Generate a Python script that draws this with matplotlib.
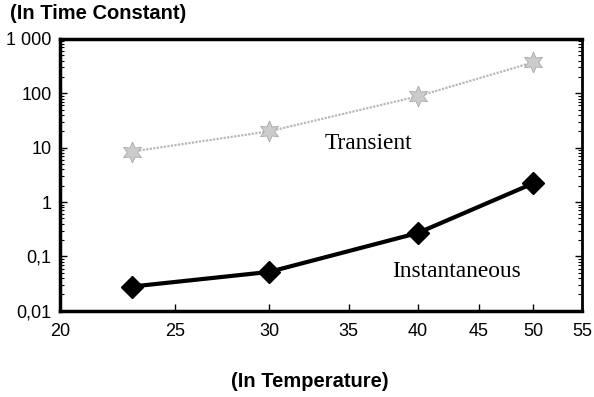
import matplotlib
matplotlib.use('Agg')
import matplotlib.pyplot as plt
from matplotlib.ticker import FixedLocator, FixedFormatter, LogLocator, NullLocator

# values
temperature = [23, 30, 40, 50]
transient = [8.5, 20, 88, 370]
instantaneous = [0.028, 0.052, 0.27, 2.2]

x_ticks = [20, 25, 30, 35, 40, 45, 50, 55]
x_labels = ['20', '25', '30', '35', '40', '45', '50', '55']
y_ticks = [0.01, 0.1, 1, 10, 100, 1000]
y_labels = ['0,01', '0,1', '1', '10', '100', '1 000']

plt.rcParams['font.family'] = ['Liberation Sans', 'DejaVu Sans']

fig = plt.figure(figsize=(5.94, 3.97), dpi=100)
ax = fig.add_axes([0.101, 0.217, 0.879, 0.685])

ax.plot(temperature, transient, color='#b8b8b8', linewidth=1.6, linestyle=(0, (1, 0.6)),
        marker=(6, 1, 0), markersize=15, markerfacecolor='#cccccc',
        markeredgecolor='#a8a8a8', markeredgewidth=0.6)
ax.plot(temperature, instantaneous, color='black', linewidth=3,
        marker='D', markersize=11, markerfacecolor='black', markeredgecolor='black')

ax.set_xscale('log')
ax.set_yscale('log')
ax.set_xlim(20, 55)
ax.set_ylim(0.01, 1000)

ax.xaxis.set_major_locator(FixedLocator(x_ticks))
ax.xaxis.set_major_formatter(FixedFormatter(x_labels))
ax.xaxis.set_minor_locator(NullLocator())
ax.yaxis.set_major_locator(FixedLocator(y_ticks))
ax.yaxis.set_major_formatter(FixedFormatter(y_labels))
ax.yaxis.set_minor_locator(LogLocator(base=10, subs=range(2, 10), numticks=20))

ax.tick_params(axis='both', which='major', direction='in', length=5, width=1,
               labelsize=13, colors='black')
ax.tick_params(axis='x', pad=9)
ax.tick_params(axis='y', which='both', right=True, pad=6)
ax.tick_params(axis='y', which='minor', direction='in', length=3, width=0.8)

for side in ['left', 'bottom', 'top']:
    ax.spines[side].set_linewidth(2.5)
ax.spines['right'].set_linewidth(2)

ax.text(0.506, 0.595, 'Transient', transform=ax.transAxes, fontsize=16.8,
        family='Liberation Serif')
ax.text(0.636, 0.125, 'Instantaneous', transform=ax.transAxes, fontsize=16.8,
        family='Liberation Serif')

fig.text(0.017, 0.965, '(In Time Constant)', fontsize=14.5, fontweight='bold',
         va='center', ha='left')
fig.text(0.522, 0.04, '(In Temperature)', fontsize=14.5, fontweight='bold',
         va='center', ha='center')

fig.savefig('out.png', dpi=100)
